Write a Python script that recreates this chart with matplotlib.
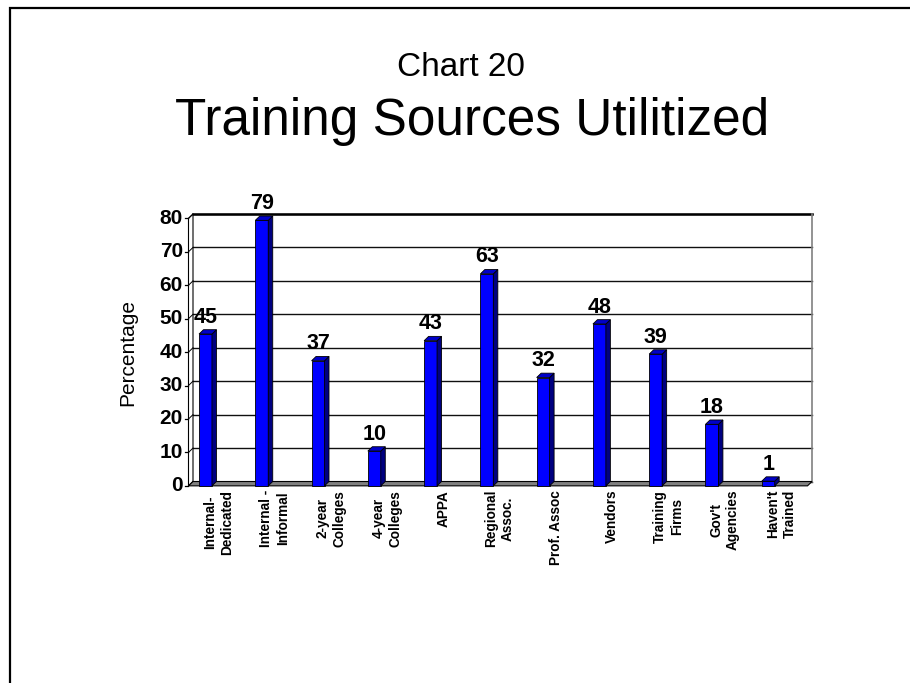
import matplotlib
matplotlib.use("Agg")
import matplotlib.pyplot as plt
from matplotlib.patches import Polygon, Rectangle
from matplotlib.transforms import blended_transform_factory

plt.rcParams['font.family'] = ['Liberation Sans', 'DejaVu Sans']

categories = ["Internal-\nDedicated", "Internal -\nInformal", "2-year\nColleges",
              "4-year\nColleges", "APPA", "Regional\nAssoc.", "Prof. Assoc",
              "Vendors", "Training\nFirms", "Gov't\nAgencies", "Haven't\nTrained"]
values = [45, 79, 37, 10, 43, 63, 32, 48, 39, 18, 1]
yticks = [0, 10, 20, 30, 40, 50, 60, 70, 80]

W, H = 910, 683
fig = plt.figure(figsize=(W / 100, H / 100), dpi=100)

# slide frame (cropped on the right and bottom)
fig.patches.append(Rectangle((9.5 / W, -0.1), 1.2, 1 - 8.5 / H + 0.1,
                             transform=fig.transFigure, fill=False,
                             edgecolor='black', linewidth=1.6))

fig.text(461 / W, 1 - 76 / H, "Chart 20", ha='center', va='baseline', fontsize=24)
fig.text(472 / W, 1 - 135 / H, "Training Sources Utilitized", ha='center',
         va='baseline', fontsize=37)

ax = fig.add_axes([193 / W, 1 - 481.5 / H, 619 / W, 267.5 / H])
n = len(values)
ax.set_xlim(0, n)
ax.set_ylim(0, 80)
ax.axis('off')

dx, dy = 0.08, 1.3   # depth offset of the 3D look

# back wall gridlines
for t in yticks:
    ax.plot([0, n], [t, t], color='#101010', lw=1.0, clip_on=False, zorder=1)
ax.plot([0, n], [80, 80], color='black', lw=1.8, clip_on=False, zorder=1)
ax.plot([n, n], [0, 80], color='#808080', lw=1.2, clip_on=False, zorder=1)

# left wall
ax.add_patch(Polygon([(-dx, -dy), (0, 0), (0, 80), (-dx, 80 - dy)], closed=True,
                     facecolor='white', edgecolor='black', lw=0.8, clip_on=False, zorder=2))
for t in yticks:
    ax.plot([-dx, 0], [t - dy, t], color='black', lw=0.7, clip_on=False, zorder=2)
    ax.plot([-dx - 0.07, -dx], [t - dy, t - dy], color='black', lw=0.9, clip_on=False, zorder=2)
    ax.text(-dx - 0.1, t - dy, str(t), ha='right', va='center', fontsize=15,
            fontweight='bold')

# floor
ax.add_patch(Polygon([(-dx, -dy), (n - dx, -dy), (n, 0), (0, 0)], closed=True,
                     facecolor='#808080', edgecolor='black', lw=0.8, clip_on=False, zorder=2))

# bars
bw = 0.23
for i, v in enumerate(values):
    x0 = i + 0.107
    y0, y1 = -dy, v - 0.9
    ax.add_patch(Rectangle((x0, y0), bw, y1 - y0, facecolor='#0000FF',
                           edgecolor='black', lw=0.6, clip_on=False, zorder=3))
    ax.add_patch(Polygon([(x0 + bw, y0), (x0 + bw + dx, y0 + dy),
                          (x0 + bw + dx, y1 + dy), (x0 + bw, y1)], closed=True,
                         facecolor='#000080', edgecolor='black', lw=0.6,
                         clip_on=False, zorder=3))
    ax.add_patch(Polygon([(x0, y1), (x0 + bw, y1), (x0 + bw + dx, y1 + dy),
                          (x0 + dx, y1 + dy)], closed=True, facecolor='#0000C8',
                         edgecolor='black', lw=0.6, clip_on=False, zorder=3))
    ax.text(x0 + bw / 2, v + 1.0, str(v), ha='center', va='bottom',
            fontsize=15.5, fontweight='bold', zorder=4)

# category labels
trans = blended_transform_factory(ax.transData, ax.transAxes)
for i, c in enumerate(categories):
    ax.annotate(c, xy=(i + 0.45, 0), xycoords=trans, xytext=(0, -6),
                textcoords='offset points', rotation=90, ha='center', va='top',
                multialignment='center', fontsize=9.8, fontweight='bold',
                linespacing=1.25, annotation_clip=False)

fig.text(128 / W, 1 - 352 / H, "Percentage", rotation=90, ha='center',
         va='center', fontsize=15)

fig.savefig("out.png", dpi=100, facecolor='white')
